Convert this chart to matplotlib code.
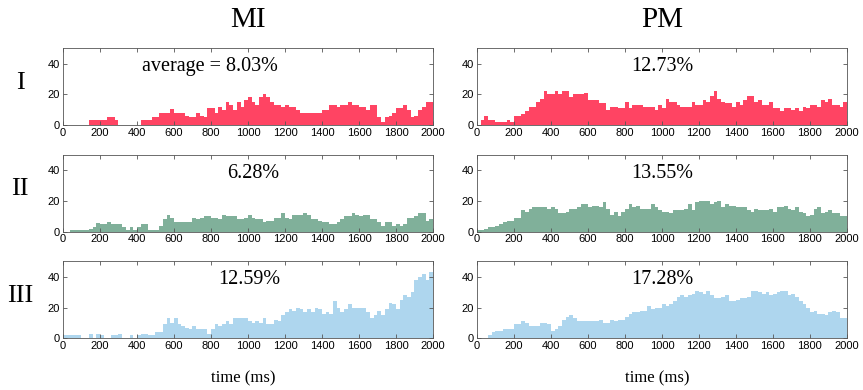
import numpy as np
import matplotlib
matplotlib.use("Agg")
import matplotlib.pyplot as plt

bin_width = 20  # ms
edges = np.arange(0, 2000, bin_width)

mi_1 = [0,0,0,0,0,0,0,3,3,3,3,3,5.5,5.5,3,0,0,0,0,0,0,3,3,3,5.5,5.5,8,8,8,10.5,
        8,8,8,6,5.5,5.5,8,6,5,11,11,8,12,10,15,13,10,15,12,16,18,15,13,18,20,18,15,13,13,12,
        13,12,12,10,8,8,8,8,8,8,10,10,13,13,12,13,13,15,13,13,12,12,10,13,13,5,2,5,6,8,
        11,11,13,10,5,6,10,12,15,15]
pm_1 = [0,3,6,3,3,2,2,2,3,2,6,6,7,9,12,12,15,17,22,20,20,22,20,22,22,18,20,20,20,21,
        16,16,16,14,14,10,12,12,11,11,15,11,13,13,13,12,12,12,10,13,11,17,15,15,13,12,12,12,15,13,
        13,16,15,19,22,17,15,14,14,12,15,13,16,19,19,15,16,13,13,15,11,11,9,11,11,10,11,9,12,11,
        13,13,12,16,15,17,13,13,12,15]
mi_2 = [0,0,1,1,1,1,1,2,3,5.5,5,5,6,5,5,5,3,1,3,1,3,5,5,1,1,1,4,8,11,9,
        6,6,6,6,6,9,8,9,10,10,9,9,8,11,10,10,10,8,8,9,11,9,8,8,6,7,7,9,9,12,
        9,8,11,11,11,12,11,8,8,7,6,6,5,5,6,8,10,10,12,11,10,11,11,8,8,6,4,6,6,4,
        5,4,5,9,9,10,12,12,7,8]
pm_2 = [1,1,2,3,3,4,5,6,7,7,9,9,14,13,15,16,16,16,16,15,16,15,12,12,13,15,15,16,18,18,
        16,17,17,16,19,15,11,13,10,13,15,18,16,17,15,15,15,18,16,14,13,13,12,14,14,14,15,18,14,19,
        20,20,20,18,19,20,16,18,17,17,16,16,16,14,13,15,14,14,14,15,13,16,16,17,15,14,16,13,12,10,
        11,15,16,12,13,14,12,12,10,10]
mi_3 = [2,2,2,2,2,0,0,3,0,3,2,0,0,2,2,3,0,0,2,0,2,3,3,2,2,4,4,9,13,10,
        13,9,8,7,6,8,6,6,6,3,6,9,8,9,11,9,13,13,13,13,11,10,11,10,13,9,9,12,11,15,
        17,19,18,20,19,17,19,17,20,19,16,17,16,24,20,17,19,22,20,20,20,20,17,13,15,18,15,19,23,22,
        19,25,28,27,30,38,40,42,38,43]
pm_3 = [0,0,0,2,4,5,5,6,6,6,9,9,11,10,8,8,8,10,10,9,5,6,8,12,14,15,13,11,11,11,
        11,11,11,12,10,10,12,11,12,12,14,16,17,17,18,18,21,19,20,20,22,21,22,24,27,28,27,28,29,31,
        30,29,31,28,26,26,27,28,24,24,25,26,26,27,31,31,30,29,30,28,29,30,31,31,28,29,27,24,22,20,
        17,18,16,16,15,17,18,17,13,13]

col_titles = ["MI", "PM"]
row_labels = ["I", "II", "III"]
averages = [["average = 8.03%", "12.73%"], ["6.28%", "13.55%"], ["12.59%", "17.28%"]]
avg_xpos = [[795, 1000], [1030, 1000], [1005, 1000]]
row_colors = ["#FF4463", "#80B09A", "#AED6EE"]
data = [[mi_1, pm_1], [mi_2, pm_2], [mi_3, pm_3]]
xticks = list(range(0, 2001, 200))
yticks = [0, 20, 40]

fig = plt.figure(figsize=(8.63, 3.9), dpi=100)
lefts = [0.073, 0.5527]
width = 0.4287
bottoms = [0.6795, 0.406, 0.1326]
height = 0.197

serif = "Liberation Serif"
sans = "Liberation Sans"

for r in range(3):
    for c in range(2):
        ax = fig.add_axes([lefts[c], bottoms[r], width, height])
        ax.bar(edges, data[r][c], width=bin_width, align="edge",
               color=row_colors[r], linewidth=0)
        ax.set_xlim(0, 2000)
        ax.set_ylim(0, 50)
        ax.set_xticks(xticks)
        ax.set_yticks(yticks)
        ax.tick_params(direction="in", top=True, right=True, length=3,
                       width=0.6, labelsize=8, pad=2, color="#555555")
        for lab in ax.get_xticklabels() + ax.get_yticklabels():
            lab.set_fontfamily(sans)
        for sp in ax.spines.values():
            sp.set_linewidth(0.6)
            sp.set_color("#555555")
        ax.text(avg_xpos[r][c], 38, averages[r][c], ha="center", va="center",
                fontsize=14.5, family=serif)

for c in range(2):
    fig.text(lefts[c] + width / 2, 1 - 20 / 390, col_titles[c], ha="center",
             va="center", fontsize=21, family=serif)
    fig.text(lefts[c] + width / 2 - 0.005, 1 - 378 / 390, "time (ms)", ha="center",
             va="center", fontsize=12, family=serif)

for r in range(3):
    fig.text(20 / 863, bottoms[r] + height / 2 + 0.01, row_labels[r], ha="center",
             va="center", fontsize=19, family=serif)

fig.savefig("out.png", dpi=100)
